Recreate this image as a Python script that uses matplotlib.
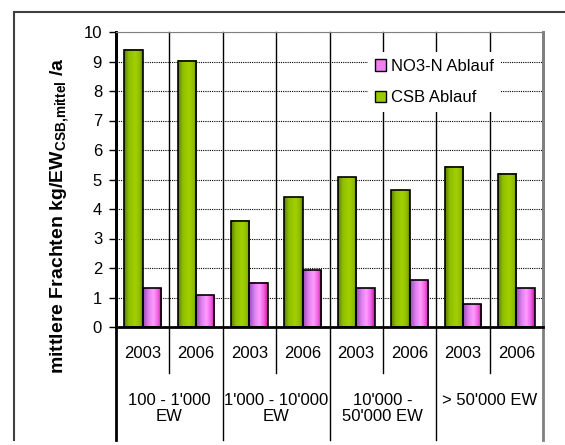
import matplotlib
matplotlib.use("Agg")
import matplotlib.pyplot as plt
import numpy as np
from matplotlib.colors import LinearSegmentedColormap
from matplotlib.patches import Patch
from matplotlib.lines import Line2D

plt.rcParams['font.family'] = ['Liberation Sans', 'DejaVu Sans']
plt.rcParams['mathtext.fontset'] = 'custom'
plt.rcParams['mathtext.rm'] = 'Liberation Sans'
plt.rcParams['mathtext.bf'] = 'Liberation Sans:bold'

# data
years = ["2003", "2006", "2003", "2006", "2003", "2006", "2003", "2006"]
groups = ["100 - 1'000\nEW", "1'000 - 10'000\nEW", "10'000 -\n50'000 EW", "> 50'000 EW"]
csb = [9.4, 9.02, 3.6, 4.4, 5.07, 4.63, 5.44, 5.2]
no3 = [1.31, 1.08, 1.5, 1.93, 1.31, 1.59, 0.77, 1.31]

green_cm = LinearSegmentedColormap.from_list(
    "g", [(0, "#5f7d00"), (0.25, "#8fbf00"), (0.6, "#a2d000"), (0.85, "#8fbc00"), (1, "#5f7a00")])
pink_cm = LinearSegmentedColormap.from_list(
    "p", [(0, "#9b4ab8"), (0.3, "#e080f0"), (0.55, "#ff9cff"), (0.8, "#f060e0"), (1, "#c81098")])

fig = plt.figure(figsize=(5.65, 4.45), dpi=100)
ax = fig.add_axes([116/565, 1-327/445, (543-116)/565, (327-32)/445])

x = np.arange(len(years))
w = 0.345
b1 = ax.bar(x - w/2, csb, w, facecolor='none', edgecolor='black', lw=1.2, zorder=3)
b2 = ax.bar(x + w/2, no3, w, facecolor='none', edgecolor='black', lw=1.2, zorder=3)

grad = np.linspace(0, 1, 64).reshape(1, -1)
for bars, cm in ((b1, green_cm), (b2, pink_cm)):
    for p in bars:
        x0, w0, h0 = p.get_x(), p.get_width(), p.get_height()
        ax.imshow(grad, extent=[x0, x0 + w0, 0, h0], cmap=cm, aspect='auto', zorder=2)

ax.set_xlim(-0.5, 7.5)
ax.set_ylim(0, 10)
ax.set_yticks(range(0, 11))
ax.tick_params(axis='y', labelsize=12, length=5, width=1, direction='out', pad=5)
ax.set_xticks([])
ax.yaxis.grid(True, linestyle=(0, (1, 1)), color='black', lw=0.8, zorder=0)

ax.spines['left'].set_linewidth(2)
ax.spines['bottom'].set_linewidth(2)
ax.spines['right'].set_color('#808080')
ax.spines['right'].set_linewidth(2)
ax.spines['top'].set_color('#808080')
ax.spines['top'].set_linestyle((0, (1, 1)))

# category separators (inside plot and below)
tr = ax.get_xaxis_transform()
ax_h = 327 - 32
for i in range(9):
    b = i - 0.5
    low = -(440 - 327) / ax_h if i % 2 == 0 else -(373 - 327) / ax_h
    col = '#808080' if i == 8 else 'black'
    ax.plot([b, b], [low, 1], color=col, lw=1 if i not in (0, 8) else 2,
            transform=tr, clip_on=False, zorder=1)

for i, yr in enumerate(years):
    ax.text(i, -(354 - 327) / ax_h, yr, transform=tr, ha='center', va='center', fontsize=12)
for g, lab in enumerate(groups):
    ax.text(2 * g + 0.5, -(393 - 327) / ax_h, lab, transform=tr, ha='center', va='top',
            fontsize=12, linespacing=1.05)

handles = [Patch(facecolor='#f080f0', edgecolor='black', lw=1),
           Patch(facecolor='#99cc00', edgecolor='black', lw=1)]
leg = ax.legend(handles, ["NO3-N Ablauf", "CSB Ablauf"], loc='upper left',
                bbox_to_anchor=((368 - 116) / 427, (327 - 52) / ax_h), fontsize=12,
                frameon=True, fancybox=False, edgecolor='none', facecolor='white',
                framealpha=1, handlelength=0.7, handleheight=0.7, handletextpad=0.3,
                labelspacing=1.0, borderpad=0.4, borderaxespad=0)

fig.text(60/565, 1 - 216/445, r"mittlere Frachten kg/EW$_\mathbf{CSB{,}mittel}$ /a",
         rotation=90, ha='center', va='center', fontsize=14, fontweight='bold')

# outer frame
fig.add_artist(Line2D([14/565, 14/565], [1 - 440/445, 1 - 12/445], color='#404040', lw=1.5))
fig.add_artist(Line2D([14/565, 1], [1 - 12/445, 1 - 12/445], color='#404040', lw=1.5))

fig.savefig("out.png", dpi=100)
